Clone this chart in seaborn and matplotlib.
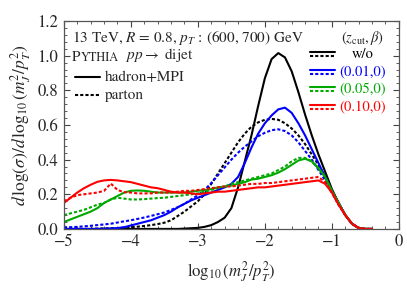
import numpy as np
import pandas as pd
import seaborn as sns
import matplotlib.pyplot as plt
from matplotlib.ticker import MultipleLocator

# sampling grid of log10(m^2/pT^2)
x = np.round(np.arange(-50, -3) / 10, 1)

# hadron+MPI (solid) and parton (dashed) curves
wo_had = [0, 0, 0, 0, 0, 0, 0, 0, 0, 0,
          0, 0, 0, 0, 0, 0, 0, 0, 0.002, 0.004,
          0.006, 0.012, 0.022, 0.04, 0.065, 0.12, 0.24, 0.39, 0.54, 0.71,
          0.87, 0.98, 1.015, 0.99, 0.91, 0.79, 0.66, 0.54, 0.43, 0.33,
          0.23, 0.15, 0.08, 0.03, 0.005, 0, 0]
wo_par = [0, 0, 0, 0, 0, 0.002, 0.003, 0.004, 0.005, 0.007,
          0.01, 0.013, 0.017, 0.022, 0.028, 0.036, 0.05, 0.075, 0.1, 0.13,
          0.16, 0.2, 0.26, 0.32, 0.38, 0.44, 0.5, 0.55, 0.59, 0.615,
          0.63, 0.635, 0.63, 0.61, 0.58, 0.54, 0.49, 0.43, 0.37, 0.3,
          0.22, 0.15, 0.08, 0.03, 0.005, 0, 0]
b01_had = [0, 0, 0, 0, 0, 0, 0.001, 0.003, 0.005, 0.01,
           0.02, 0.03, 0.04, 0.05, 0.065, 0.08, 0.1, 0.125, 0.145, 0.165,
           0.18, 0.195, 0.21, 0.225, 0.24, 0.26, 0.3, 0.38, 0.47, 0.55,
           0.61, 0.655, 0.69, 0.70, 0.67, 0.61, 0.54, 0.46, 0.38, 0.3,
           0.22, 0.15, 0.08, 0.03, 0.005, 0, 0]
b01_par = [0.01, 0.01, 0.012, 0.015, 0.018, 0.022, 0.026, 0.03, 0.037, 0.044,
           0.05, 0.058, 0.066, 0.075, 0.085, 0.095, 0.11, 0.125, 0.145, 0.17,
           0.195, 0.225, 0.265, 0.31, 0.355, 0.4, 0.44, 0.475, 0.505, 0.535,
           0.555, 0.57, 0.575, 0.565, 0.54, 0.5, 0.45, 0.4, 0.34, 0.28,
           0.21, 0.14, 0.08, 0.03, 0.005, 0, 0]
b05_had = [0.04, 0.055, 0.07, 0.085, 0.1, 0.12, 0.15, 0.17, 0.19, 0.21,
           0.22, 0.222, 0.22, 0.215, 0.21, 0.21, 0.21, 0.21, 0.21, 0.215,
           0.22, 0.225, 0.23, 0.24, 0.245, 0.25, 0.26, 0.27, 0.285, 0.29,
           0.3, 0.31, 0.325, 0.345, 0.37, 0.395, 0.405, 0.39, 0.35, 0.3,
           0.22, 0.15, 0.08, 0.03, 0.005, 0, 0]
b05_par = [0.08, 0.09, 0.1, 0.11, 0.125, 0.14, 0.15, 0.17, 0.18, 0.175,
           0.17, 0.17, 0.172, 0.175, 0.178, 0.18, 0.185, 0.19, 0.195, 0.2,
           0.205, 0.215, 0.225, 0.235, 0.245, 0.26, 0.27, 0.28, 0.29, 0.3,
           0.31, 0.32, 0.34, 0.36, 0.39, 0.41, 0.41, 0.39, 0.35, 0.3,
           0.22, 0.15, 0.08, 0.03, 0.005, 0, 0]
b10_had = [0.15, 0.18, 0.21, 0.235, 0.255, 0.272, 0.28, 0.283, 0.28, 0.275,
           0.27, 0.26, 0.25, 0.24, 0.235, 0.225, 0.215, 0.21, 0.21, 0.205,
           0.2, 0.205, 0.21, 0.215, 0.215, 0.22, 0.225, 0.23, 0.235, 0.24,
           0.24, 0.245, 0.25, 0.255, 0.26, 0.265, 0.27, 0.275, 0.28, 0.26,
           0.21, 0.14, 0.08, 0.03, 0.005, 0, 0]
b10_par = [0.16, 0.18, 0.195, 0.2, 0.205, 0.21, 0.22, 0.262, 0.225, 0.212,
           0.21, 0.205, 0.205, 0.205, 0.21, 0.21, 0.21, 0.215, 0.22, 0.22,
           0.225, 0.23, 0.235, 0.24, 0.245, 0.245, 0.25, 0.255, 0.26, 0.26,
           0.265, 0.265, 0.27, 0.275, 0.28, 0.285, 0.29, 0.295, 0.3, 0.27,
           0.21, 0.14, 0.08, 0.03, 0.005, 0, 0]

groom_labels = ['w/o', '(0.01,0)', '(0.05,0)', '(0.10,0)']
level_labels = ['hadron+MPI', 'parton']
colors = ['black', '#0000ff', '#00a800', '#ff0000']

series = {
    ('w/o', 'hadron+MPI'): wo_had, ('w/o', 'parton'): wo_par,
    ('(0.01,0)', 'hadron+MPI'): b01_had, ('(0.01,0)', 'parton'): b01_par,
    ('(0.05,0)', 'hadron+MPI'): b05_had, ('(0.05,0)', 'parton'): b05_par,
    ('(0.10,0)', 'hadron+MPI'): b10_had, ('(0.10,0)', 'parton'): b10_par,
}
frames = []
for (g, lev), vals in series.items():
    frames.append(pd.DataFrame({'x': x, 'y': vals, 'groom': g, 'level': lev}))
df = pd.concat(frames, ignore_index=True)

sns.set_style('ticks')
plt.rcParams['font.family'] = ['STIXGeneral', 'DejaVu Serif']
plt.rcParams['mathtext.fontset'] = 'stix'

fig = plt.figure(figsize=(4.07, 2.92), dpi=100)
ax = fig.add_axes([0.157, 0.216, 0.823, 0.712])

dash = (1.5, 1.0)
sns.lineplot(data=df, x='x', y='y', hue='groom', style='level',
             hue_order=groom_labels, style_order=level_labels,
             palette=colors, dashes={'hadron+MPI': '', 'parton': dash},
             estimator=None, sort=False, legend=False, lw=1.5, ax=ax)

ax.set_xlim(-5, 0)
ax.set_ylim(0, 1.2)
ax.xaxis.set_major_locator(MultipleLocator(1))
ax.xaxis.set_minor_locator(MultipleLocator(0.2))
ax.yaxis.set_major_locator(MultipleLocator(0.2))
ax.yaxis.set_minor_locator(MultipleLocator(0.04))
ax.xaxis.set_major_formatter(lambda v, p: f'{v:.0f}'.replace('-', '\u2212'))
ax.yaxis.set_major_formatter(lambda v, p: f'{v:.1f}')
ax.tick_params(which='both', direction='in', top=True, right=True,
               labelsize=12, color='#444444')
ax.tick_params(which='major', length=4.5, width=0.8, pad=4)
ax.tick_params(which='minor', length=2.5, width=0.6)
for s in ax.spines.values():
    s.set_color('#555555')
    s.set_linewidth(0.9)

ax.set_xlabel(r'$\log_{10}(m_J^2/p_T^2)$', fontsize=12, labelpad=6)
ax.set_ylabel(r'$d\,\log(\sigma)/d\,\log_{10}(m_J^2/p_T^2)$', fontsize=12.5,
              labelpad=3)

# header text
fs = 11
ax.text(0.024, 0.918, r'13 TeV, $R$ = 0.8, $p_T$ : (600, 700) GeV',
        transform=ax.transAxes, fontsize=fs, va='center')
tp = ax.text(0.024, 0.827, 'P', transform=ax.transAxes, fontsize=fs,
             va='center')
ty = ax.annotate('YTHIA', xy=(1, 0), xycoords=tp, fontsize=fs * 0.8,
                 va='bottom', xytext=(0.3, 0), textcoords='offset points')
ax.annotate(r'  $pp\rightarrow$ dijet', xy=(1, 0), xycoords=ty,
            fontsize=fs, va='bottom')

# left legend: line styles
for i, (lab, ls) in enumerate(zip(level_labels, ['-', (0, dash)])):
    yy = 0.731 - i * 0.087
    ax.plot([0.033, 0.107], [yy, yy], color='black', ls=ls, lw=1.5,
            transform=ax.transAxes)
    ax.text(0.122, yy, lab, transform=ax.transAxes, fontsize=fs,
            va='center')

# right legend: grooming parameters
lfs = 10.5
ax.text(0.893, 0.918, r'$(z_{\rm cut},\beta)$', transform=ax.transAxes,
        fontsize=lfs, ha='center', va='center')
for i, (lab, c) in enumerate(zip(groom_labels, colors)):
    yy = 0.841 - i * 0.085
    ax.plot([0.734, 0.809], [yy + 0.0095, yy + 0.0095], color=c, lw=1.5,
            transform=ax.transAxes)
    ax.plot([0.734, 0.809], [yy - 0.0095, yy - 0.0095], color=c, lw=1.5,
            ls=(0, dash), transform=ax.transAxes)
    ax.text(0.893, yy, lab, transform=ax.transAxes, fontsize=lfs,
            ha='center', va='center', color=c)

fig.savefig('out.png', dpi=100)
